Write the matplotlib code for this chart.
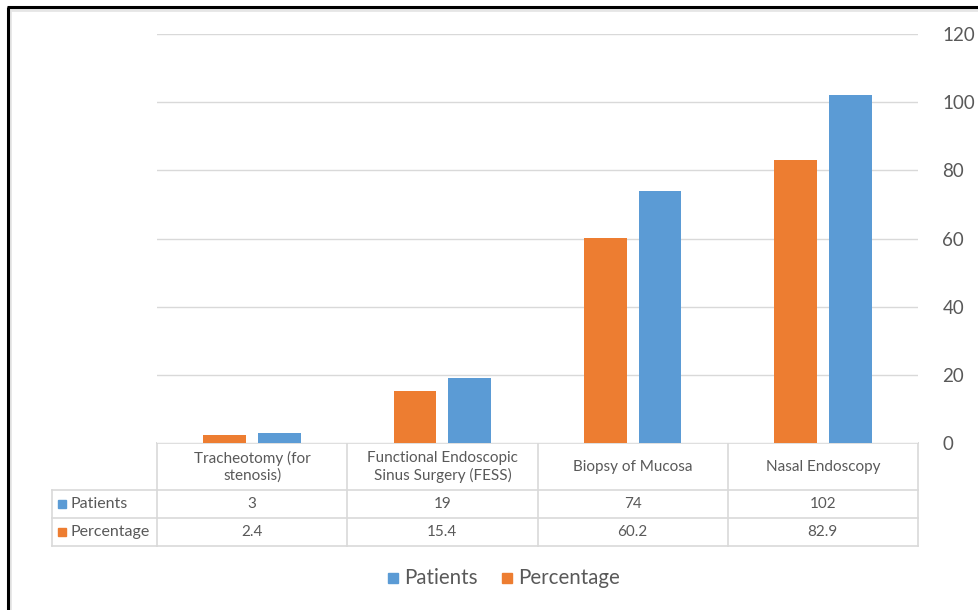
import matplotlib.pyplot as plt
from matplotlib.transforms import blended_transform_factory
from matplotlib.patches import Rectangle

procedures = ['Tracheotomy (for\nstenosis)', 'Functional Endoscopic\nSinus Surgery (FESS)',
              'Biopsy of Mucosa', 'Nasal Endoscopy']
patients = [3, 19, 74, 102]
percentage = [2.4, 15.4, 60.2, 82.9]
patients_txt = ['3', '19', '74', '102']
percentage_txt = ['2.4', '15.4', '60.2', '82.9']

BLUE = '#5B9BD5'
ORANGE = '#ED7D31'
GRID = '#D9D9D9'
TXT = '#595959'

plt.rcParams['font.family'] = ['Lato', 'DejaVu Sans']

W, H = 979, 610
fig = plt.figure(figsize=(W / 100, H / 100), dpi=100)

# overlay in pixel coordinates for the table, legend and frame
ov = fig.add_axes([0, 0, 1, 1])
ov.set_xlim(0, W)
ov.set_ylim(H, 0)
ov.axis('off')

ax = fig.add_axes([157 / W, 1 - 443 / H, (918 - 157) / W, (443 - 34) / H])
x = range(len(procedures))
w = 0.225
ax.bar([i - 0.144 for i in x], percentage, w, color=ORANGE, zorder=3)
ax.bar([i + 0.144 for i in x], patients, w, color=BLUE, zorder=3)
ax.set_xlim(-0.5, len(procedures) - 0.5)
ax.set_ylim(0, 120)
ax.set_yticks(range(0, 121, 20))
ax.yaxis.tick_right()
ax.tick_params(axis='y', length=0, pad=17.5, labelsize=13.5, labelcolor=TXT)
ax.set_xticks([])
ax.grid(axis='y', color=GRID, lw=1, zorder=0)
for s in ax.spines.values():
    s.set_visible(False)

# data table under the bars
tr = blended_transform_factory(ax.transData, ov.transData)
xl, xr = -0.5, len(procedures) - 0.5
lkw = dict(color=GRID, lw=1.2, clip_on=False)
ov.plot([xl, xr], [443, 443], transform=tr, **lkw)
for y in (490, 518, 546):
    ov.plot([52, 157], [y, y], **lkw)
    ov.plot([xl, xr], [y, y], transform=tr, **lkw)
ov.plot([52, 52], [490, 546], **lkw)
for i in range(len(procedures) + 1):
    ov.plot([i - 0.5, i - 0.5], [443, 546], transform=tr, **lkw)

for i, name in enumerate(procedures):
    ov.text(i, 467, name, transform=tr, ha='center', va='center',
            fontsize=11, color=TXT, linespacing=1.25)
    ov.text(i, 504, patients_txt[i], transform=tr, ha='center', va='center',
            fontsize=11, color=TXT)
    ov.text(i, 532, percentage_txt[i], transform=tr, ha='center', va='center',
            fontsize=11, color=TXT)

for y, lab, col in ((504, 'Patients', BLUE), (532, 'Percentage', ORANGE)):
    ov.add_patch(Rectangle((58, y - 4.5), 8, 8, color=col))
    ov.text(71, y, lab, ha='left', va='center', fontsize=11.5, color=TXT)

# legend
for x0, lab, col in ((388, 'Patients', BLUE), (502, 'Percentage', ORANGE)):
    ov.add_patch(Rectangle((x0, 573), 10, 10, color=col))
    ov.text(x0 + 16, 578, lab, ha='left', va='center', fontsize=14.8, color=TXT)

# frame
ov.plot([10, 10], [11, H], color='#E6E6E6', lw=2)
ov.plot([11, W], [9.5, 9.5], color='#E6E6E6', lw=2)
ov.plot([8, 8], [6.5, H], color='black', lw=2.2, solid_capstyle='butt')
ov.plot([7, W], [7, 7], color='black', lw=2.2, solid_capstyle='butt')

fig.savefig('out.png', dpi=100)
